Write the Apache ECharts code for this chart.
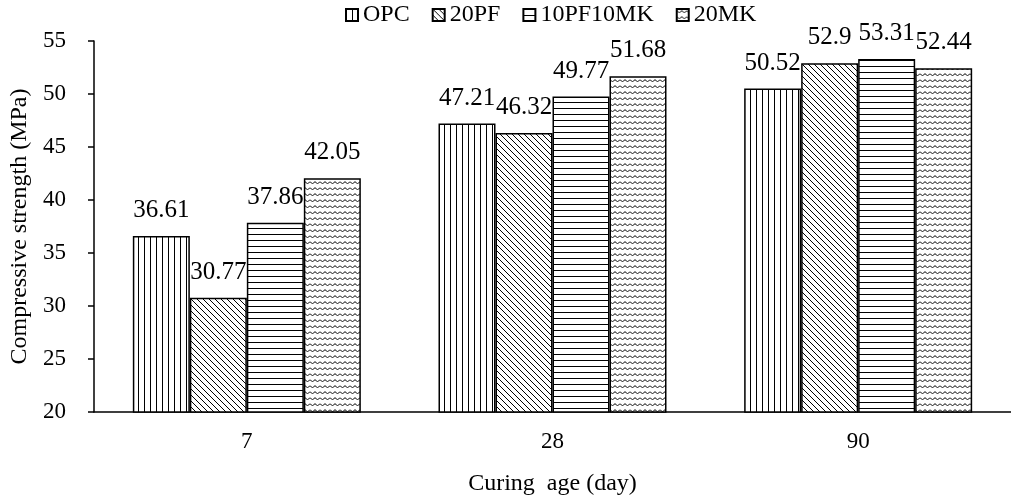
<!DOCTYPE html>
<html>
<head>
<meta charset="utf-8">
<script src="https://cdn.jsdelivr.net/npm/echarts@6/dist/echarts.min.js"></script>
<style>
  html, body { margin: 0; padding: 0; background: #fff; }
  #chart { width: 1011px; height: 501px; }
</style>
</head>
<body>
<div id="chart"></div>
<script>
const categories = ['7', '28', '90'];
const seriesNames = ['OPC', '20PF', '10PF10MK', '20MK'];
const opc = [36.61, 47.21, 50.52];
const pf20 = [30.77, 46.32, 52.9];
const pf10mk10 = [37.86, 49.77, 53.31];
const mk20 = [42.05, 51.68, 52.44];

const FONT = '"Liberation Serif", "Times New Roman", serif';

// little canvas tiles for the hatch fills
function tile(w, h, draw) {
  const c = document.createElement('canvas');
  c.width = w; c.height = h;
  const ctx = c.getContext('2d');
  ctx.fillStyle = '#fff';
  ctx.fillRect(0, 0, w, h);
  ctx.strokeStyle = '#000';
  ctx.lineWidth = 1;
  draw(ctx);
  return { image: c, repeat: 'repeat' };
}

const vertical = tile(6, 6, ctx => {
  ctx.beginPath(); ctx.moveTo(0.5, 0); ctx.lineTo(0.5, 6); ctx.stroke();
});
const diagonal = tile(6, 6, ctx => {
  ctx.beginPath();
  ctx.moveTo(-1, -1); ctx.lineTo(7, 7);
  ctx.moveTo(-1, 5); ctx.lineTo(1, 7);
  ctx.moveTo(5, -1); ctx.lineTo(7, 1);
  ctx.stroke();
});
const horizontal = tile(6, 6, ctx => {
  ctx.beginPath(); ctx.moveTo(0, 0.5); ctx.lineTo(6, 0.5); ctx.stroke();
});
const wave = tile(10, 6, ctx => {
  ctx.lineWidth = 0.9;
  ctx.beginPath();
  ctx.moveTo(0, 1.5);
  ctx.quadraticCurveTo(2.5, 5.5, 5, 1.5);
  ctx.quadraticCurveTo(7.5, 5.5, 10, 1.5);
  ctx.stroke();
});

const fills = [vertical, diagonal, horizontal, wave];
const values = [opc, pf20, pf10mk10, mk20];

const chart = echarts.init(document.getElementById('chart'));
const option = {
  animation: false,
  backgroundColor: '#fff',
  textStyle: { fontFamily: FONT, color: '#000' },
  legend: {
    top: -2,
    left: 340,
    icon: 'rect',
    itemWidth: 12,
    itemHeight: 12,
    itemGap: 22,
    textStyle: { fontFamily: FONT, fontSize: 24, color: '#000' },
    data: seriesNames
  },
  grid: { left: 92, right: -7, top: 41, bottom: 89 },
  xAxis: {
    type: 'category',
    data: categories,
    name: 'Curing  age (day)',
    nameLocation: 'middle',
    nameGap: 60,
    nameTextStyle: { fontFamily: FONT, fontSize: 24, color: '#000' },
    axisLine: { lineStyle: { color: '#000', width: 1.5 } },
    axisTick: { length: 8, lineStyle: { color: '#000', width: 1.5 } },
    axisLabel: { fontFamily: FONT, fontSize: 23, color: '#000', margin: 18 }
  },
  yAxis: {
    type: 'value',
    min: 20,
    max: 55,
    interval: 5,
    name: 'Compressive strength (MPa)',
    nameLocation: 'middle',
    nameGap: 62,
    nameTextStyle: { fontFamily: FONT, fontSize: 24, color: '#000' },
    splitLine: { show: false },
    axisLine: { show: true, lineStyle: { color: '#000', width: 1.5 } },
    axisTick: { show: true, length: 6, lineStyle: { color: '#000', width: 1.5 } },
    axisLabel: { fontFamily: FONT, fontSize: 23, color: '#000', margin: 28 }
  },
  series: seriesNames.map((name, i) => ({
    name: name,
    type: 'bar',
    data: values[i],
    barWidth: 57,
    barGap: '0%',
    itemStyle: { color: fills[i], borderColor: '#000', borderWidth: 1.5 },
    label: {
      show: true,
      position: 'top',
      distance: 13,
      fontFamily: FONT,
      fontSize: 25,
      color: '#000'
    }
  }))
};
chart.setOption(option);
</script>
</body>
</html>
